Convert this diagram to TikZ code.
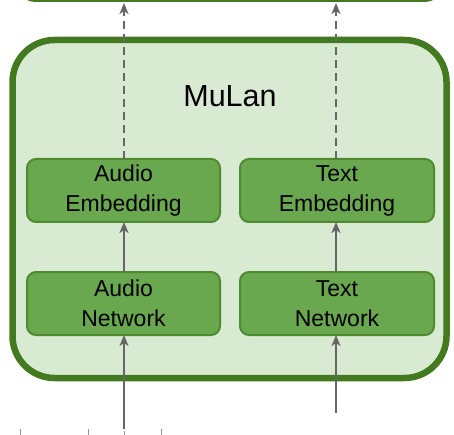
\documentclass[tikz,border=0pt]{standalone}
\usepackage{fontspec}
\setmainfont{Liberation Sans}
\usetikzlibrary{arrows.meta}
\definecolor{dgreen}{HTML}{447A1F}
\definecolor{lgreen}{HTML}{D9EAD3}
\definecolor{mgreen}{HTML}{6AA84F}
\definecolor{bgreen}{HTML}{4E8A2E}
\definecolor{agray}{HTML}{666666}
\tikzset{
  blockbox/.style={draw=bgreen, fill=mgreen, line width=2pt, rounded corners=9pt,
    minimum width=193pt, minimum height=63pt, inner sep=0pt, outer sep=0pt,
    align=center, font=\fontsize{23pt}{30pt}\selectfont},
  flowarrow/.style={draw=agray, line width=2.2pt, -{Stealth[length=11pt,width=9pt,inset=3pt]}},
  dasharrow/.style={flowarrow, dash pattern=on 8pt off 5pt},
  tickline/.style={draw=agray!70, line width=0.8pt}
}
\begin{document}
\begin{tikzpicture}[x=1pt,y=-1pt]
\useasboundingbox (0,0) rectangle (454,435);
\begin{scope}
\clip (0,0) rectangle (454,435);
\node[draw=dgreen, fill=white, line width=4pt, rounded corners=20pt, minimum width=428pt,
  minimum height=60pt, inner sep=0pt, outer sep=0pt] (topbox) at (230,-30) {};
\end{scope}
\node[draw=dgreen, fill=lgreen, line width=6.5pt, rounded corners=42pt, minimum width=434pt,
  minimum height=338pt, inner sep=0pt, outer sep=0pt] (mainbox) at (229.5,209) {};
\node[anchor=base, font=\fontsize{30.5pt}{36pt}\selectfont] (title) at (230,107) {MuLan};
\node[blockbox] (ae) at (123.5,190.5) {Audio\\Embedding};
\node[blockbox] (an) at (123.5,303.5) {Audio\\Network};
\node[blockbox, minimum width=194pt] (te) at (337,190.5) {Text\\Embedding};
\node[blockbox, minimum width=194pt] (tn) at (337,303.5) {Text\\Network};
\coordinate (aout) at (124,3);
\coordinate (tout) at (336,3);
\coordinate (ain) at (124,429);
\coordinate (tin) at (336,413);
\draw[dasharrow] (ae.north -| aout) -- (aout);
\draw[dasharrow] (te.north -| tout) -- (tout);
\draw[flowarrow] (an.north -| aout) -- (ae.south -| aout);
\draw[flowarrow] (tn.north -| tout) -- (te.south -| tout);
\draw[flowarrow] (ain) -- (an.south -| ain);
\draw[flowarrow] (tin) -- (tn.south -| tin);
\coordinate (k1) at (20,429);
\coordinate (k2) at (88,429);
\coordinate (k3) at (124,431);
\coordinate (k4) at (161,429);
\draw[tickline] (k1) -- ++(0,6);
\draw[tickline] (k2) -- ++(0,6);
\draw[tickline] (k3) -- ++(0,4);
\draw[tickline] (k4) -- ++(0,6);
\end{tikzpicture}
\end{document}
